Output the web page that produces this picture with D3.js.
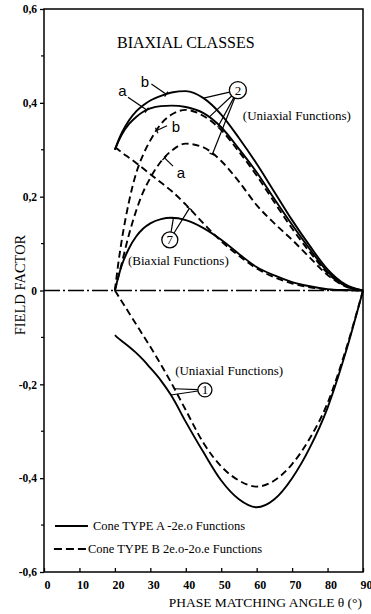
<!DOCTYPE html>
<html>
<head>
<meta charset="utf-8">
<script src="https://cdn.jsdelivr.net/npm/d3@7"></script>
<style>
  body { margin: 0; background: #fff; }
  text { font-family: "Liberation Serif", "Times New Roman", serif; fill: #000; }
</style>
</head>
<body>
<svg id="chart"></svg>
<script>
// phase matching angle (deg) shared by every curve
var angles = [20, 21, 22, 24, 26, 28, 30, 33, 36, 40, 45, 50, 55, 60, 65, 70, 75, 80, 85, 90];

// class 2 (uniaxial functions), cone type A (solid) and B (dashed), curves a and b
var class2A_b = [0.30, 0.32, 0.337, 0.363, 0.382, 0.395, 0.405, 0.415, 0.422, 0.425, 0.41, 0.375, 0.325, 0.27, 0.21, 0.15, 0.095, 0.045, 0.013, 0];
var class2A_a = [0.30, 0.318, 0.333, 0.355, 0.37, 0.381, 0.388, 0.393, 0.394, 0.391, 0.378, 0.348, 0.302, 0.252, 0.195, 0.14, 0.088, 0.04, 0.011, 0];
var class2B_b = [0, 0.06, 0.11, 0.19, 0.25, 0.29, 0.32, 0.355, 0.375, 0.385, 0.372, 0.342, 0.296, 0.245, 0.188, 0.132, 0.082, 0.037, 0.01, 0];
var class2B_a = [0, 0.03, 0.06, 0.12, 0.17, 0.21, 0.24, 0.275, 0.298, 0.313, 0.305, 0.276, 0.232, 0.182, 0.143, 0.108, 0.07, 0.033, 0.009, 0];

// class 7 (biaxial functions)
var class7A = [0, 0.03, 0.055, 0.09, 0.115, 0.132, 0.143, 0.152, 0.155, 0.15, 0.133, 0.108, 0.078, 0.05, 0.032, 0.018, 0.009, 0.003, 0.001, 0];
var class7B = [0.305, 0.30, 0.294, 0.283, 0.272, 0.26, 0.248, 0.23, 0.212, 0.183, 0.143, 0.105, 0.074, 0.047, 0.028, 0.015, 0.007, 0.002, 0.0005, 0];

// class 1 (uniaxial functions)
var class1A = [-0.095, -0.102, -0.108, -0.12, -0.133, -0.148, -0.165, -0.192, -0.225, -0.28, -0.345, -0.405, -0.445, -0.462, -0.445, -0.40, -0.335, -0.25, -0.135, 0];
var class1B = [0, -0.012, -0.024, -0.048, -0.072, -0.096, -0.12, -0.158, -0.198, -0.255, -0.325, -0.375, -0.405, -0.418, -0.405, -0.37, -0.315, -0.24, -0.13, 0];

var xTicks = [0, 10, 20, 30, 40, 50, 60, 70, 80, 90],
    yTicks = [-0.6, -0.4, -0.2, 0, 0.2, 0.4, 0.6],
    yMinor = [-0.5, -0.3, -0.1, 0.1, 0.3, 0.5];

var legendLabels = ["Cone TYPE A -2e.o Functions", "Cone TYPE B 2e.o-2o.e Functions"];

var width = 371,
    height = 614;

var svg = d3.select("#chart").attr("width", width).attr("height", height);

var x = d3.scaleLinear().domain([0, 90]).range([44, 363]),
    y = d3.scaleLinear().domain([-0.6, 0.6]).range([572, 9]);

var dashPattern = "7,4";

// value of a curve at any angle (piecewise linear on the samples)
function valAt(vals, a) {
    return d3.scaleLinear().domain(angles).range(vals)(a);
}

// frame
svg.append("rect")
    .attr("x", x(0)).attr("y", y(0.6))
    .attr("width", x(90) - x(0)).attr("height", y(-0.6) - y(0.6))
    .attr("fill", "none").attr("stroke", "#000").attr("stroke-width", 1.5);

// axes
var xAxis = svg.append("g")
    .attr("transform", "translate(0," + y(-0.6) + ")")
    .call(d3.axisBottom(x).tickValues(xTicks).tickSize(-4).tickPadding(8).tickFormat(d3.format("d")));
xAxis.select(".domain").remove();
xAxis.selectAll("line").attr("stroke-width", 1.3);
xAxis.selectAll("text")
    .attr("dx", 3)
    .style("font-family", "'Liberation Serif', serif")
    .style("font-size", "12px").style("font-weight", "bold");

var yAxis = svg.append("g")
    .attr("transform", "translate(" + x(0) + ",0)")
    .call(d3.axisLeft(y).tickValues(yTicks).tickSize(4).tickPadding(3)
        .tickFormat(function (d) { return d === 0 ? "0" : d3.format(".1f")(d).replace("\u2212", "-").replace(".", ","); }));
yAxis.select(".domain").remove();
yAxis.selectAll("line").attr("stroke-width", 1.3);
yAxis.selectAll("text")
    .style("font-family", "'Liberation Serif', serif")
    .style("font-size", "11.5px").style("font-weight", "bold");

svg.append("g").selectAll("line")
    .data(yMinor)
    .join("line")
    .attr("x1", x(0) - 3).attr("x2", x(0))
    .attr("y1", function (d) { return y(d); }).attr("y2", function (d) { return y(d); })
    .attr("stroke", "#000").attr("stroke-width", 1.2);

// axis titles
svg.append("text")
    .attr("transform", "translate(25," + 285 + ") rotate(-90)")
    .attr("text-anchor", "middle")
    .style("font-size", "14.5px")
    .text("FIELD FACTOR");

svg.append("text")
    .attr("x", x(90) - 1).attr("y", 607)
    .attr("text-anchor", "end")
    .style("font-size", "13.5px")
    .text("PHASE MATCHING ANGLE \u03B8 (\u00B0)");

// zero line, dash-dot
svg.append("line")
    .attr("x1", x(0)).attr("x2", x(90))
    .attr("y1", y(0)).attr("y2", y(0))
    .attr("stroke", "#000").attr("stroke-width", 1.5)
    .attr("stroke-dasharray", "16,3,2,3");

// curves
var series = [
    { vals: class2A_b, dashed: false },
    { vals: class2A_a, dashed: false },
    { vals: class2B_b, dashed: true },
    { vals: class2B_a, dashed: true },
    { vals: class7A, dashed: false },
    { vals: class7B, dashed: true },
    { vals: class1A, dashed: false },
    { vals: class1B, dashed: true }
];

var line = d3.line()
    .x(function (d) { return x(d[0]); })
    .y(function (d) { return y(d[1]); })
    .curve(d3.curveMonotoneX);

svg.append("g").selectAll("path")
    .data(series)
    .join("path")
    .attr("d", function (s) { return line(d3.zip(angles, s.vals)); })
    .attr("fill", "none")
    .attr("stroke", "#000")
    .attr("stroke-width", 1.9)
    .attr("stroke-dasharray", function (s) { return s.dashed ? dashPattern : null; });

// annotations
var notes = svg.append("g");

function leader(x1, y1, x2, y2, bar) {
    notes.append("line")
        .attr("x1", x1).attr("y1", y1).attr("x2", x2).attr("y2", y2)
        .attr("stroke", "#000").attr("stroke-width", 1.2);
    if (bar) {
        var dx = x2 - x1, dy = y2 - y1, len = Math.sqrt(dx * dx + dy * dy);
        var px = -dy / len * 3, py = dx / len * 3;
        notes.append("line")
            .attr("x1", x2 - px).attr("y1", y2 - py).attr("x2", x2 + px).attr("y2", y2 + py)
            .attr("stroke", "#000").attr("stroke-width", 1.2);
    }
}

function circled(label, cx, cy, r, targets) {
    var ccx = x(cx), ccy = y(cy);
    notes.append("circle")
        .attr("cx", ccx).attr("cy", ccy).attr("r", r)
        .attr("fill", "#fff").attr("stroke", "#000").attr("stroke-width", 1.3);
    notes.append("text")
        .attr("x", ccx).attr("y", ccy + 4.5)
        .attr("text-anchor", "middle")
        .style("font-size", "13px")
        .text(label);
    targets.forEach(function (t) {
        var tx = x(t.a), ty = y(valAt(t.vals, t.a));
        var dx = tx - ccx, dy = ty - ccy, len = Math.sqrt(dx * dx + dy * dy);
        leader(ccx + dx / len * r, ccy + dy / len * r, tx, ty, t.bar);
    });
}

function letter(txt, a, v, fromA, fromV, vals, toA) {
    notes.append("text")
        .attr("x", x(a)).attr("y", y(v))
        .attr("text-anchor", "middle")
        .style("font-family", "'Liberation Sans', Arial, sans-serif")
        .style("font-size", "15px")
        .text(txt);
    leader(x(fromA), y(fromV), x(toA), y(valAt(vals, toA)), true);
}

notes.append("text")
    .attr("x", x(20.6)).attr("y", y(0.517))
    .style("font-size", "16px")
    .text("BIAXIAL CLASSES");

letter("b", 28.5, 0.434, 30.3, 0.44, class2A_b, 34.5);
letter("a", 22.1, 0.415, 23.7, 0.412, class2A_a, 29);
letter("b", 37.2, 0.338, 34.7, 0.351, class2B_b, 31.8);
letter("a", 38.6, 0.24, 36.4, 0.265, class2B_a, 34);

circled("2", 54.7, 0.427, 8.5, [
    { vals: class2A_b, a: 45, bar: false },
    { vals: class2A_a, a: 46.5, bar: false },
    { vals: class2B_b, a: 49, bar: false },
    { vals: class2B_a, a: 47.5, bar: true }
]);

circled("7", 35.5, 0.108, 8, [
    { vals: class7A, a: 36.5, bar: true },
    { vals: class7B, a: 41, bar: true }
]);

circled("1", 45.4, -0.212, 7, [
    { vals: class1A, a: 35.8, bar: false },
    { vals: class1B, a: 36.8, bar: false }
]);

var funcNotes = [
    { t: "(Uniaxial Functions)", a: 56.1, v: 0.363 },
    { t: "(Biaxial Functions)", a: 23.7, v: 0.054 },
    { t: "(Uniaxial Functions)", a: 37, v: -0.18 }
];
notes.selectAll("text.fn")
    .data(funcNotes)
    .join("text")
    .attr("class", "fn")
    .attr("x", function (d) { return x(d.a); })
    .attr("y", function (d) { return y(d.v); })
    .style("font-size", "13px")
    .text(function (d) { return d.t; });

// legend
var legend = svg.append("g");
var legendRows = [
    { label: legendLabels[0], dashed: false, a0: 3.1, a1: 12.4, v: -0.502, ta: 13.8 },
    { label: legendLabels[1], dashed: true, a0: 2.8, a1: 12.1, v: -0.551, ta: 12.4 }
];
legendRows.forEach(function (r) {
    legend.append("line")
        .attr("x1", x(r.a0)).attr("x2", x(r.a1))
        .attr("y1", y(r.v)).attr("y2", y(r.v))
        .attr("stroke", "#000").attr("stroke-width", 1.8)
        .attr("stroke-dasharray", r.dashed ? "8,4" : null);
    legend.append("text")
        .attr("x", x(r.ta)).attr("y", y(r.v) + 3.5)
        .style("font-size", "12.5px")
        .text(r.label);
});
</script>
</body>
</html>
